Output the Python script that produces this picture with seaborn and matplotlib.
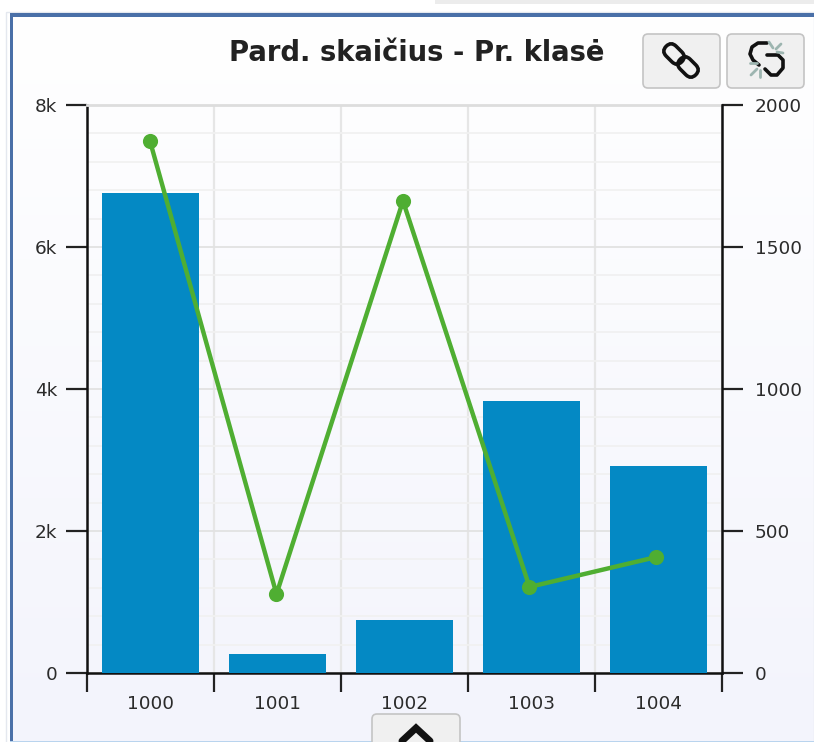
import numpy as np
import matplotlib
matplotlib.use("Agg")
import matplotlib.pyplot as plt
from matplotlib.patches import FancyBboxPatch, Rectangle
from matplotlib.transforms import Affine2D
import seaborn as sns

classes = ["1000", "1001", "1002", "1003", "1004"]
sales = [6760, 268, 746, 3830, 2915]
line_vals = [1873, 278, 1662, 303, 408]
left_ticks = [0, 2000, 4000, 6000, 8000]
left_labels = ["0", "2k", "4k", "6k", "8k"]
right_ticks = [0, 500, 1000, 1500, 2000]
minor_ticks = [400, 800, 1200, 1600, 2400, 2800, 3200, 3600, 4400, 4800, 5200, 5600, 6400, 6800, 7200, 7600]

W, H = 814, 742
BAR = "#0489c4"
GREEN = "#4fae32"
TXT = "#2b2b2b"

sns.set_style("white")
plt.rcParams['font.family'] = ['DejaVu Sans']
fig = plt.figure(figsize=(W / 100, H / 100), dpi=100, facecolor="white")


def px_axes(l, t, r, b):
    return [l / W, 1 - b / H, (r - l) / W, (b - t) / H]


# background, frame and buttons are on a full-figure layer in pixel coords
bg = fig.add_axes([0, 0, 1, 1], zorder=0)
grad = np.linspace(0, 1, 200).reshape(-1, 1)
cmap = matplotlib.colors.LinearSegmentedColormap.from_list("p", ["#ffffff", "#f3f4fc"])
bg.imshow(grad, extent=[10, W, H, 15], cmap=cmap, aspect="auto")
bg.set_xlim(0, W)
bg.set_ylim(H, 0)
bg.axis("off")
bg.add_patch(Rectangle((435, 0), W - 435, 4, color="#ececec", lw=0))
bg.add_patch(Rectangle((6, 12), W - 6, H, fc="none", ec="#e4e8ef", lw=1))
bg.add_patch(Rectangle((10, 13), W, 3.5, color="#4a70a8", lw=0))
bg.add_patch(Rectangle((10, 13), 3, H, color="#4a70a8", lw=0))
bg.add_patch(Rectangle((10, H - 1.5), W, 1.5, color="#b9d4ee", lw=0))

for x0, y0, w, h in [(643, 34, 77, 54), (727, 34, 77, 54), (372, 714, 88, 40)]:
    bg.add_patch(FancyBboxPatch((x0, y0), w, h, boxstyle="round,pad=0,rounding_size=5",
                                fc="#f0f0f0", ec="#c4c4c4", lw=1.2))

# link icon, two overlapping loops
for cx, cy in [(674, 54), (688, 67)]:
    rot = Affine2D().rotate_deg_around(cx, cy, 45) + bg.transData
    bg.add_patch(FancyBboxPatch((cx - 11, cy - 7), 22, 14, boxstyle="round,pad=0,rounding_size=7",
                                fc="none", ec="#111111", lw=2.6, transform=rot))
# broken link icon
bg.plot([767, 758, 752, 750, 753, 759], [43, 43, 47, 54, 60, 65], color="#111111", lw=2.6)
bg.plot([767, 778, 783, 783, 777, 771, 765], [55, 55, 60, 68, 75, 75, 69], color="#111111", lw=2.6)
for xs, ys in [([769, 773], [42, 48]), ([781, 776], [44, 49]), ([783, 777], [53, 52]),
               ([750, 757], [63, 63]), ([751, 757], [75, 69]), ([760, 760], [77, 70])]:
    bg.plot(xs, ys, color="#9db5b0", lw=2)
bg.plot([402, 416, 430], [741, 728, 741], color="#111111", lw=5, solid_joinstyle="miter")

bg.text(417, 53, "Pard. skaičius - Pr. klasė", ha="center", va="center",
        fontsize=19.8, fontweight="bold", color="#222222")

ax = fig.add_axes(px_axes(87, 105, 722, 673), zorder=1)
ax.patch.set_alpha(0)
sns.barplot(x=classes, y=sales, color=BAR, saturation=1, width=0.76, ax=ax, zorder=3, linewidth=0)
ax.set_xlim(-0.5, 4.5)
ax.set_ylim(0, 8000)
ax.set_yticks(left_ticks)
ax.set_yticklabels(left_labels)
ax.set_yticks(minor_ticks, minor=True)
ax.set_xticks(np.arange(-0.5, 5, 1))
ax.set_xticklabels([])
ax.set_xticks(range(5), minor=True)
ax.set_xticklabels(classes, minor=True)
ax.grid(True, axis="y", which="major", color="#e2e2e2", lw=1.3, zorder=0)
ax.grid(True, axis="y", which="minor", color="#f1f1f1", lw=1.3, zorder=0)
ax.grid(True, axis="x", which="major", color="#e6e6e6", lw=1.6, zorder=0)
ax.set_axisbelow(True)
ax.tick_params(axis="y", which="major", length=15, width=1.6, color="#222222", labelsize=13.3,
               labelcolor=TXT, pad=6.5, left=True)
ax.tick_params(axis="y", which="minor", length=0)
ax.tick_params(axis="x", which="major", length=13.7, width=1.6, color="#222222", bottom=True)
ax.tick_params(axis="x", which="minor", length=0, labelsize=13.3, labelcolor=TXT, pad=15.5)
ax.set_xlabel("")
ax.set_ylabel("")
for side in ["left", "bottom"]:
    ax.spines[side].set_color("#111111")
    ax.spines[side].set_linewidth(1.8)
ax.spines["top"].set_color("#dddddd")
ax.spines["top"].set_linewidth(2)
ax.spines["right"].set_visible(False)

# separate axes, not twinx: the line's x scale is a touch narrower than the bars'
ax2 = fig.add_axes(px_axes(87, 105, 722, 673), zorder=2)
ax2.patch.set_alpha(0)
sns.pointplot(x=classes, y=line_vals, color=GREEN, ax=ax2, markersize=8.5, linewidth=3.2, errorbar=None)
ax2.set_xlim(-0.498, 4.522)
ax2.set_ylim(0, 2000)
ax2.set_xticks([])
ax2.set_xlabel("")
ax2.yaxis.tick_right()
ax2.set_yticks(right_ticks)
ax2.tick_params(axis="y", length=15, width=1.6, color="#222222", labelsize=13.3, labelcolor=TXT, pad=8.6, right=True)
ax2.set_ylabel("")
ax2.grid(False)
for side, spine in ax2.spines.items():
    spine.set_visible(side == "right")
ax2.spines["right"].set_color("#111111")
ax2.spines["right"].set_linewidth(1.8)

fig.savefig("out.png", dpi=100)
